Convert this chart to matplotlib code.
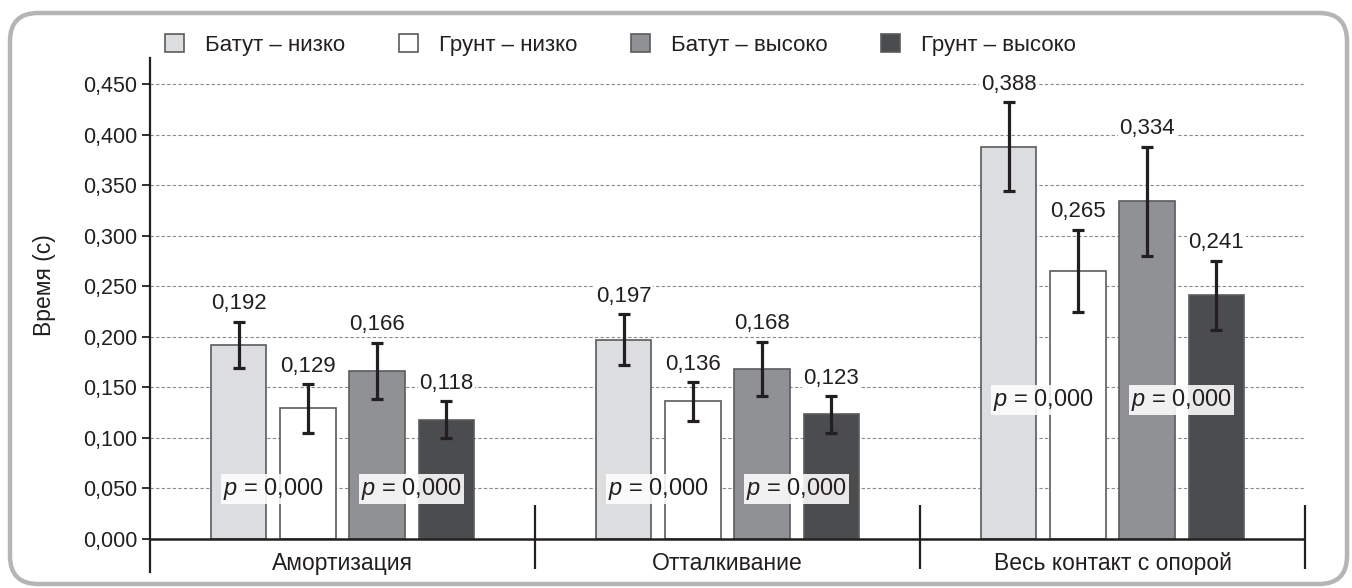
import numpy as np
import matplotlib
matplotlib.use("Agg")
import matplotlib.pyplot as plt
from matplotlib.patches import FancyBboxPatch, Patch
from matplotlib.ticker import FuncFormatter

plt.rcParams['font.family'] = ['Liberation Sans', 'DejaVu Sans']
plt.rcParams['mathtext.fontset'] = 'custom'
plt.rcParams['mathtext.it'] = 'Liberation Sans:italic'
plt.rcParams['mathtext.rm'] = 'Liberation Sans'

# data
categories = ['Амортизация', 'Отталкивание', 'Весь контакт с опорой']
series_names = ['Батут – низко', 'Грунт – низко', 'Батут – высоко', 'Грунт – высоко']

batut_low = [0.192, 0.197, 0.388]
grunt_low = [0.129, 0.136, 0.265]
batut_high = [0.166, 0.168, 0.334]
grunt_high = [0.118, 0.123, 0.241]

batut_low_err = [0.023, 0.025, 0.044]
grunt_low_err = [0.024, 0.019, 0.041]
batut_high_err = [0.028, 0.027, 0.054]
grunt_high_err = [0.018, 0.018, 0.034]

p_low = [0.000, 0.000, 0.000]
p_high = [0.000, 0.000, 0.000]

colors = ['#dcdddf', '#ffffff', '#909195', '#4b4c4e']
edge = '#5a5b5d'
ink = '#231f20'


def comma(v, decimals=3):
    return f'{v:.{decimals}f}'.replace('.', ',')


fig = plt.figure(figsize=(13.52, 5.88), dpi=100)
ax = fig.add_axes([150 / 1352, 1 - 572 / 588, 1155 / 1352, 514 / 588])

x = np.arange(len(categories))
step = 0.18
width = 0.145
all_vals = [batut_low, grunt_low, batut_high, grunt_high]
all_errs = [batut_low_err, grunt_low_err, batut_high_err, grunt_high_err]

for i, (vals, errs) in enumerate(zip(all_vals, all_errs)):
    pos = x + (i - 1.5) * step
    ax.bar(pos, vals, width, color=colors[i], edgecolor=edge, linewidth=1.2, zorder=3)
    ax.errorbar(pos, vals, yerr=errs, fmt='none', ecolor=ink, elinewidth=2.3,
                capsize=4.5, capthick=2.3, zorder=4)
    for px, v, e in zip(pos, vals, errs):
        ax.annotate(comma(v), (px, v + e), xytext=(0, 13), textcoords='offset points',
                    ha='center', va='center', fontsize=16, color=ink, zorder=5,
                    bbox=dict(facecolor='white', edgecolor='none', pad=1))

# p-value labels between pairs of bars
p_y = [0.049, 0.049, 0.137]
for k in range(len(categories)):
    for pair, pv in ((0, p_low[k]), (1, p_high[k])):
        px = x[k] + (2 * pair - 1) * step
        ax.text(px, p_y[k], r'$p$' + ' = ' + comma(pv), ha='center', va='center',
                fontsize=17, color=ink, zorder=6,
                bbox=dict(facecolor='white', alpha=0.88, edgecolor='none', pad=1.5))

ax.set_xlim(-0.5, 2.5)
ax.set_ylim(-0.033, 0.476)
ax.set_yticks(np.arange(0, 0.451, 0.05))
ax.yaxis.set_major_formatter(FuncFormatter(lambda v, _: comma(v)))
ax.tick_params(axis='y', length=5.5, width=1.3, labelsize=15.5, pad=3.5,
               colors=ink)
ax.set_xticks([])
for s in ('top', 'right', 'bottom'):
    ax.spines[s].set_visible(False)
ax.spines['left'].set_linewidth(1.6)
ax.spines['left'].set_color(ink)

for gv in np.arange(0.05, 0.451, 0.05):
    ax.axhline(gv, color='#8a8a8a', linewidth=0.8, linestyle=(0, (3, 2)), zorder=1)
ax.axhline(0, color=ink, linewidth=1.8, zorder=4)
ax.vlines([0.5, 1.5, 2.5], -0.030, 0.033, color=ink, linewidth=1.6, clip_on=False)

for k, cat in enumerate(categories):
    ax.text(x[k], -0.025, cat, ha='center', va='center', fontsize=16.5, color=ink)

ax.set_ylabel('Время (с)', fontsize=16.5, color=ink)
ax.yaxis.set_label_coords(-0.081, 0.558)

handles = [Patch(facecolor=c, edgecolor=edge, linewidth=1.2) for c in colors]
fig.legend(handles, series_names, loc='center left', bbox_to_anchor=(165 / 1352, 1 - 45 / 588),
           ncol=4, frameon=False, fontsize=16, handlelength=0.86, handleheight=0.86,
           handletextpad=0.95, columnspacing=2.4, borderpad=0, borderaxespad=0,
           labelcolor=ink)

frame = FancyBboxPatch((0.10, 0.04), 13.37, 5.71,
                       boxstyle='round,pad=0,rounding_size=0.28',
                       transform=fig.dpi_scale_trans, facecolor='none',
                       edgecolor='#b5b5b5', linewidth=3.2)
fig.patches.append(frame)

fig.savefig('out.png', dpi=100)
